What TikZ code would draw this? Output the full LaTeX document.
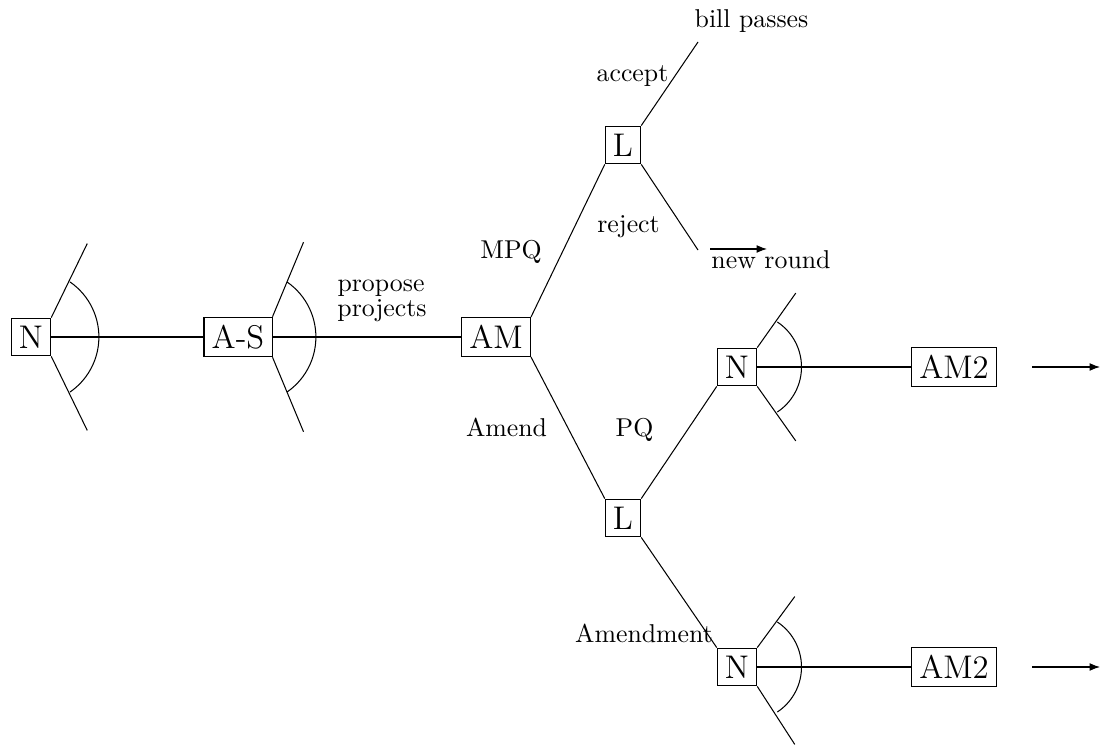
\documentclass[tikz,border=0pt]{standalone}
\usetikzlibrary{arrows.meta,calc}
\begin{document}
\begin{tikzpicture}[x=0.3876pt,y=-0.3876pt,
  box/.style={draw,inner sep=3pt,font=\fontsize{12.7}{15}\selectfont},
  lab/.style={anchor=base,inner sep=0pt},
  arr/.style={-{Latex[length=4pt,width=3pt]}}]
\useasboundingbox (0,0) rectangle (1100,748);
% decision nodes
\node[box] (n1) at (31,337) {N};
\node[box] (as) at (238,337) {A-S};
\node[box] (am) at (496,337) {AM};
\node[box] (lt) at (623,145) {L};
\node[box] (lb) at (623,518) {L};
\node[box] (nm) at (737,367) {N};
\node[box] (am2a) at (954,367) {AM2};
\node[box] (nb) at (737,667) {N};
\node[box] (am2b) at (954,667) {AM2};
% free ends
\coordinate (bp) at (698,42);
\coordinate (rj) at (698,250);
\coordinate (nr1) at (710,249);
\coordinate (nr2) at (767,249);
\coordinate (a1s) at (1032,367);
\coordinate (a1e) at (1100,367);
\coordinate (a2s) at (1032,667);
\coordinate (a2e) at (1100,667);
% main edges
\draw (n1.east) -- (as.west);
\draw (as.east) -- (am.west);
\draw (am.north east) -- (lt.south west);
\draw (am.south east) -- (lb.north west);
\draw (lt.north east) -- (bp);
\draw (lt.south east) -- (rj);
\draw (lb.north east) -- (nm.south west);
\draw (lb.south east) -- (nb.north west);
\draw (nm.east) -- (am2a.west);
\draw (nb.east) -- (am2b.west);
\draw[arr] (nr1) -- (nr2);
\draw[arr] (a1s) -- (a1e);
\draw[arr] (a2s) -- (a2e);
% information-set branches and arcs
\draw (n1.north east) -- ++(36,-74);
\draw (n1.south east) -- ++(36,74);
\draw ($(n1.center)+(1,0)+(-55.4:66.9)$) arc[start angle=-55.4,end angle=55.4,radius=66.9];
\draw (as.north east) -- ++(31,-74.5);
\draw (as.south east) -- ++(31,74.5);
\draw ($(as.center)+(11,0)+(-55.4:66.9)$) arc[start angle=-55.4,end angle=55.4,radius=66.9];
\draw (nm.north east) -- ++(38.5,-54.5);
\draw (nm.south east) -- ++(38.5,54.5);
\draw ($(nm.center)+(10.5,0)+(-56.5:54)$) arc[start angle=-56.5,end angle=56.5,radius=54];
\draw (nb.north east) -- ++(37.5,-51);
\draw (nb.south east) -- ++(37.5,58);
\draw ($(nb.center)+(10.5,0)+(-56.5:54)$) arc[start angle=-56.5,end angle=56.5,radius=54];
% labels
\node[lab] (lbp) at (751.5,28) {bill passes};
\node[lab] (lacc) at (632.5,82) {accept};
\node[lab] (lrej) at (628.5,233) {reject};
\node[lab] (lnr) at (771,269) {new round};
\node[lab] (lmpq) at (511,259) {MPQ};
\node[lab] (lpp1) at (381,292) {propose};
\node[lab] (lpp2) at (382,317) {projects};
\node[lab] (lamd) at (506.5,437) {Amend};
\node[lab] (lpq) at (634.5,437) {PQ};
\node[lab] (lamt) at (644,643) {Amendment};
\end{tikzpicture}
\end{document}
